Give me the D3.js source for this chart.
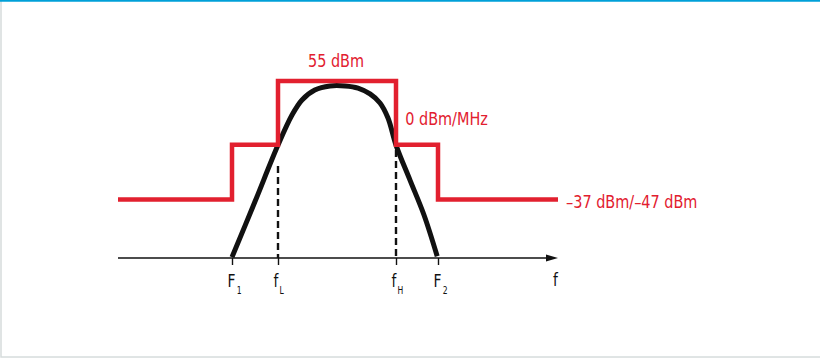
<html>
<head>
  <meta charset="UTF-8">
  <title>Spectrum mask</title>
  <script src="https://d3js.org/d3.v7.min.js"></script>
</head>
<style>
body { margin: 0; background: #fff; }
text { font-family: "DejaVu Sans Condensed", "Liberation Sans Narrow", sans-serif; }
</style>
<body>
  <script>

// frequency ticks along the axis
var tickFreq = [28.5, 40, 69.5, 80];
var tickMain = ['F', 'f', 'f', 'F'];
var tickSub  = ['1', 'L', 'H', '2'];

// emission mask (step after each point)
var maskFreq  = [0, 28.5, 40, 69.5, 80, 110];
var maskLevel = [33, 64, 100, 64, 33, 33];

// signal spectrum
var sigFreq  = [28.5, 34.2, 40, 43.5, 46, 49.2, 53, 56.8, 60, 63, 65.5, 67.5, 69.5, 73, 76.5, 79.8];
var sigLevel = [0.5, 31.6, 63.8, 80.8, 89.3, 94.9, 97.2, 97.2, 96, 92.7, 87.6, 79.1, 63.8, 44, 24.3, 1];

// dashed markers at fL and fH
var dashFreq  = [40, 69.5];
var dashTop   = [52, 61];

var maskLabels = [
  {text: '55 dBm', f: 54.5, lv: 107.9, anchor: 'middle'},
  {text: '0 dBm/MHz', f: 71.8, lv: 75.1, anchor: 'start'},
  {text: '\u201337 dBm/\u201347 dBm', f: 112, lv: 28.2, anchor: 'start'}
];

var width = 820,
    height = 361;

var red = '#e2202f';

var svg = d3.select('body')
  .append('svg')
  .attr('width', width)
  .attr('height', height);

// frame
svg.append('rect').attr('x', 1).attr('y', 0).attr('width', width).attr('height', 357)
  .attr('fill', 'none').attr('stroke', '#d6dcdc').attr('stroke-width', 1.5);
svg.append('line').attr('x1', 0).attr('x2', width).attr('y1', 0.8).attr('y2', 0.8)
  .attr('stroke', '#00a0d8').attr('stroke-width', 1.8);

var x = d3.scaleLinear().domain([0, 110]).range([118, 558]);
var y = d3.scaleLinear().domain([0, 100]).range([258, 81]);

// axis with arrow
var axis = d3.axisBottom(x)
  .tickValues(tickFreq)
  .tickSize(7)
  .tickFormat('');

var gAxis = svg.append('g')
  .attr('transform', 'translate(0,' + y(0) + ')')
  .call(axis);
gAxis.select('.domain').remove();
gAxis.selectAll('.tick line').attr('stroke', '#111').attr('stroke-width', 1.4);

svg.append('line')
  .attr('x1', x(0)).attr('x2', x(107))
  .attr('y1', y(0)).attr('y2', y(0))
  .attr('stroke', '#111').attr('stroke-width', 1.4);

svg.append('path')
  .attr('d', 'M' + x(110) + ',' + y(0) + 'l-12,-3.5l0,7z')
  .attr('fill', '#111');

// dashed lines
svg.selectAll('.dash')
  .data(dashFreq)
  .enter()
  .append('line')
  .attr('class', 'dash')
  .attr('x1', function(d){ return x(d); })
  .attr('x2', function(d){ return x(d); })
  .attr('y1', function(d, i){ return y(dashTop[i]); })
  .attr('y2', y(0))
  .attr('stroke', '#111')
  .attr('stroke-width', 2.4)
  .attr('stroke-dasharray', '7,4');

// signal curve
var sigLine = d3.line()
  .x(function(d){ return x(d[0]); })
  .y(function(d){ return y(d[1]); })
  .curve(d3.curveCatmullRom.alpha(0.5));

svg.append('path')
  .datum(d3.zip(sigFreq, sigLevel))
  .attr('d', sigLine)
  .attr('fill', 'none')
  .attr('stroke', '#111')
  .attr('stroke-width', 5);

// mask
var maskLine = d3.line()
  .x(function(d){ return x(d[0]); })
  .y(function(d){ return y(d[1]); })
  .curve(d3.curveStepAfter);

svg.append('path')
  .datum(d3.zip(maskFreq, maskLevel))
  .attr('d', maskLine)
  .attr('fill', 'none')
  .attr('stroke', red)
  .attr('stroke-width', 4.5)
  .attr('stroke-linejoin', 'miter');

// labels squeezed a bit to look like a condensed face
svg.selectAll('.mlab')
  .data(maskLabels)
  .enter()
  .append('g')
  .attr('class', 'mlab')
  .attr('transform', function(d){ return 'translate(' + x(d.f) + ',' + y(d.lv) + ') scale(0.945,1)'; })
  .append('text')
  .attr('text-anchor', function(d){ return d.anchor; })
  .attr('fill', red)
  .attr('font-size', 17)
  .text(function(d){ return d.text; });

// tick labels with subscripts
var lab = svg.selectAll('.flab')
  .data(tickFreq)
  .enter()
  .append('g')
  .attr('class', 'flab')
  .attr('transform', function(d){ return 'translate(' + (x(d) - 4.5) + ',287) scale(0.85,1)'; })
  .append('text')
  .attr('fill', '#111')
  .attr('font-size', 18);
lab.append('tspan').text(function(d, i){ return tickMain[i]; });
lab.append('tspan')
  .attr('dy', 7)
  .attr('dx', 1.5)
  .attr('font-size', 10)
  .text(function(d, i){ return tickSub[i]; });

svg.append('g')
  .attr('transform', 'translate(553,286) scale(0.85,1)')
  .append('text')
  .attr('fill', '#111')
  .attr('font-size', 18)
  .text('f');

  </script>
</body>
</html>
